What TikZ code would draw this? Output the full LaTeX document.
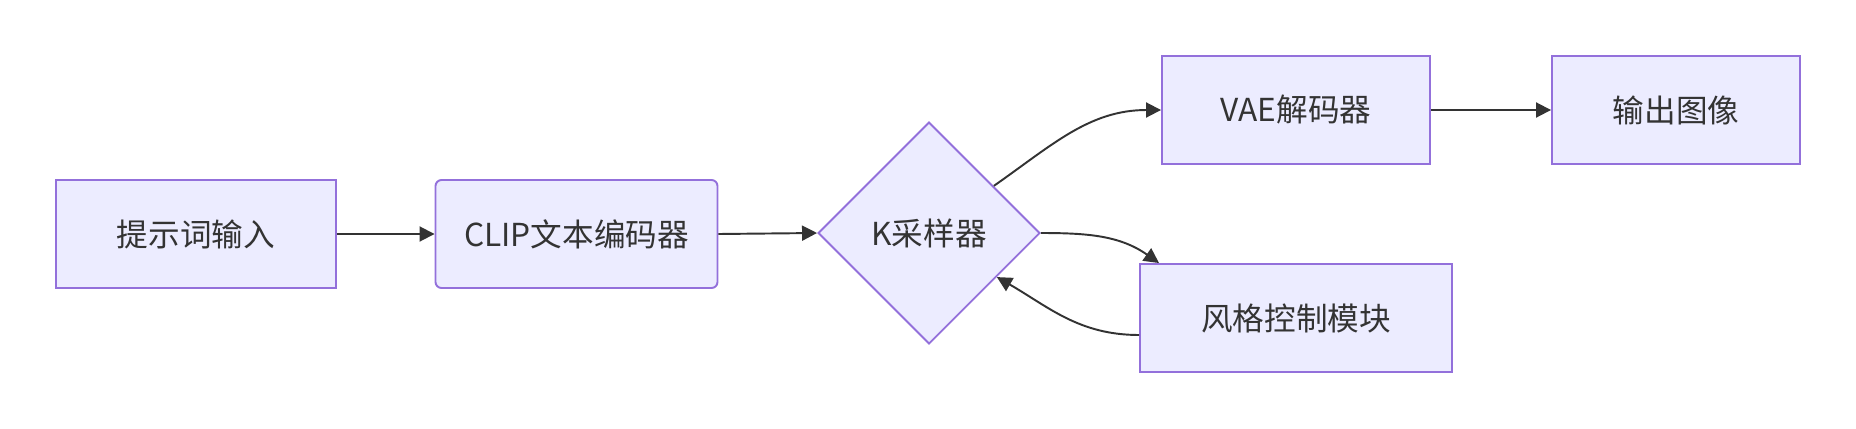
\documentclass[tikz,border=0pt]{standalone}
\usepackage{fontspec}
\setmainfont{Noto Sans CJK SC}
\usepackage{tikz}
\usetikzlibrary{shapes.geometric,arrows.meta}
\definecolor{boxfill}{HTML}{ECECFF}
\definecolor{boxline}{HTML}{9370DB}
\definecolor{edgeline}{HTML}{333333}

\begin{document}
\begin{tikzpicture}[
                            box/.style={draw=boxline, fill=boxfill, line width=1.1pt, text=edgeline, minimum height=2.16cm, font=\fontsize{18}{21}\selectfont},
                            flow/.style={draw=edgeline, line width=1.1pt, -{Triangle[length=0.3cm,width=0.3cm]}}
                        ]
                            \useasboundingbox (0,0) rectangle (37.12,8.56);
                            \node [box, minimum width=5.6cm] (prompt) at (3.92,3.88) {提示词输入};
                            \node [box, minimum width=5.64cm, rounded corners=0.12cm] (clip) at (11.53,3.88) {CLIP文本编码器};
                            \node [box, diamond, minimum width=4.44cm, minimum height=4.44cm, inner sep=0pt] (sampler) at (18.58,3.90) {K采样器};
                            \node [box, minimum width=5.36cm] (vae) at (25.92,6.36) {VAE解码器};
                            \node [box, minimum width=4.96cm] (output) at (33.52,6.36) {输出图像};
                            \node [box, minimum width=6.24cm] (style) at (25.92,2.20) {风格控制模块};
                            \draw [flow] (prompt.east) -- (clip.west);
                            \draw [flow] (clip.east) -- (sampler.west);
                            \draw [flow] (sampler.36) to [out=35, in=180] (vae.west);
                            \draw [flow] (vae.east) -- (output.west);
                            \draw [flow] (sampler.east) to [out=0, in=145] ([xshift=0.4cm]style.north west);
                            \draw [flow] ([yshift=-0.34cm]style.west) to [out=180, in=-30] (sampler.-33);
                        \end{tikzpicture}
\end{document}
